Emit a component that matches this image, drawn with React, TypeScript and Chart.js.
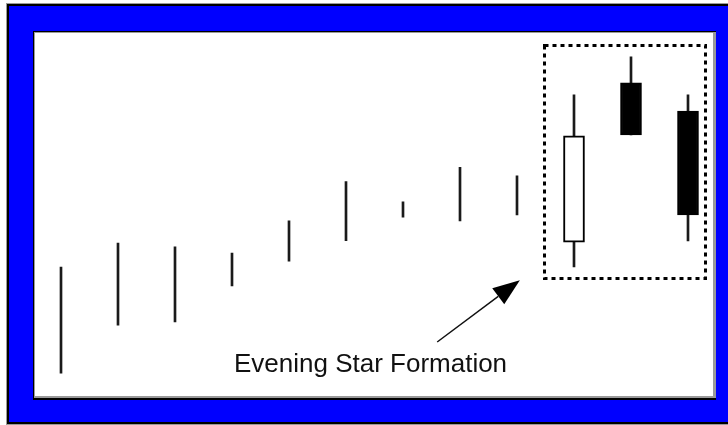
import React, { useEffect, useRef } from "react";
import { Chart, registerables } from "chart.js";

Chart.register(...registerables);

// Twelve sessions; only the last three show real bodies
const categories = ["1", "2", "3", "4", "5", "6", "7", "8", "9", "10", "11", "12"];
const highs = [35.8, 42.3, 41.3, 39.6, 48.4, 59.1, 53.6, 63.0, 60.7, 82.8, 93.2, 82.8];
const lows = [6.8, 19.9, 20.8, 30.6, 37.4, 43.0, 49.4, 48.4, 50.0, 35.8, 71.9, 42.9];
const opens: (number | null)[] = [null, null, null, null, null, null, null, null, null, 42.6, 86.1, 78.4];
const closes: (number | null)[] = [null, null, null, null, null, null, null, null, null, 71.6, 71.9, 50.0];

// Annotation (data coordinates: x = session index, y = price)
const boxX = [8.47, 11.3];
const boxY = [32.8, 96.4];
const arrowFrom = [6.6, 15.3];
const arrowTo = [8.05, 32.2];
const labelText = "Evening Star Formation";
const labelPos = [5.43, 7.1];

const framePlugin = {
  id: "frame",
  beforeDraw(chart: any) {
    const { ctx, width, height } = chart;
    ctx.save();
    ctx.fillStyle = "#ffffff";
    ctx.fillRect(0, 0, width, height);
    // outer frame
    ctx.fillStyle = "#9a9a9a";
    ctx.fillRect(6, 3, width - 6, height - 3);
    ctx.fillStyle = "#000000";
    ctx.fillRect(7, 4, width - 7, height - 5);
    ctx.fillStyle = "#0000ff";
    ctx.fillRect(9, 6, width - 9, height - 9);
    // inner panel
    ctx.fillStyle = "#000000";
    ctx.fillRect(33, 31, 683, 369);
    ctx.fillStyle = "#9a9a9a";
    ctx.fillRect(34, 32, 682, 366);
    ctx.fillStyle = "#ffffff";
    ctx.fillRect(35, 33, 678, 363);
    ctx.restore();
  },
};

const annotationPlugin = {
  id: "annot",
  afterDatasetsDraw(chart: any) {
    const { ctx } = chart;
    const xs = chart.scales.x;
    const ys = chart.scales.y;
    ctx.save();
    // dotted box, pixel-aligned
    const x1 = Math.round(xs.getPixelForValue(boxX[0])) + 0.5;
    const x2 = Math.round(xs.getPixelForValue(boxX[1])) + 0.5;
    const y1 = Math.round(ys.getPixelForValue(boxY[1])) + 0.5;
    const y2 = Math.round(ys.getPixelForValue(boxY[0])) + 0.5;
    ctx.strokeStyle = "#000";
    ctx.lineWidth = 3;
    ctx.setLineDash([4, 4]);
    ctx.strokeRect(x1, y1, x2 - x1, y2 - y1);
    ctx.setLineDash([]);
    // arrow
    const ax = xs.getPixelForValue(arrowFrom[0]);
    const ay = ys.getPixelForValue(arrowFrom[1]);
    const bx = xs.getPixelForValue(arrowTo[0]);
    const by = ys.getPixelForValue(arrowTo[1]);
    const ang = Math.atan2(by - ay, bx - ax);
    const headLen = 27;
    const headHalf = 10;
    const baseX = bx - headLen * Math.cos(ang);
    const baseY = by - headLen * Math.sin(ang);
    ctx.strokeStyle = "#111";
    ctx.lineWidth = 1.5;
    ctx.beginPath();
    ctx.moveTo(ax, ay);
    ctx.lineTo(baseX, baseY);
    ctx.stroke();
    ctx.fillStyle = "#000";
    ctx.beginPath();
    ctx.moveTo(bx, by);
    ctx.lineTo(baseX + headHalf * Math.sin(ang), baseY - headHalf * Math.cos(ang));
    ctx.lineTo(baseX - headHalf * Math.sin(ang), baseY + headHalf * Math.cos(ang));
    ctx.closePath();
    ctx.fill();
    // label
    ctx.fillStyle = "#111";
    ctx.font = '26px "Liberation Sans", Arial, sans-serif';
    ctx.textAlign = "center";
    ctx.textBaseline = "alphabetic";
    ctx.fillText(labelText, xs.getPixelForValue(labelPos[0]), ys.getPixelForValue(labelPos[1]));
    ctx.restore();
  },
};

export default function App() {
  const ref = useRef<HTMLCanvasElement | null>(null);
  useEffect(() => {
    if (!ref.current) return;
    const wickData = highs.map((h, i) => [lows[i], h]);
    const bodyData = opens.map((o, i) => (o == null || closes[i] == null ? null : [o, closes[i] as number]));
    const bodyColors = opens.map((o, i) => (o != null && (closes[i] as number) > o ? "#ffffff" : "#000000"));
    const chart = new Chart(ref.current, {
      type: "bar",
      data: {
        labels: categories,
        datasets: [
          {
            label: "body",
            data: bodyData as any,
            backgroundColor: bodyColors,
            borderColor: "#000",
            borderWidth: 2,
            borderSkipped: false,
            barThickness: 21,
            grouped: false,
            order: 0,
          },
          {
            label: "wick",
            data: wickData as any,
            backgroundColor: "#1a1a1a",
            borderWidth: 0,
            barThickness: 2,
            grouped: false,
            order: 1,
          },
        ],
      },
      options: {
        responsive: false,
        animation: false,
        devicePixelRatio: 1,
        layout: { padding: { left: 32.5, right: 11.5, top: 32, bottom: 27 } },
        plugins: { legend: { display: false }, tooltip: { enabled: false } },
        scales: {
          x: { display: false, offset: true },
          y: { display: false, min: 0, max: 100 },
        },
      },
      plugins: [framePlugin, annotationPlugin],
    });
    return () => chart.destroy();
  }, []);
  return (
    <div style={{ position: "fixed", left: 0, top: 0, width: 728, height: 425 }}>
      <canvas ref={ref} width={728} height={425} style={{ display: "block" }} />
    </div>
  );
}
